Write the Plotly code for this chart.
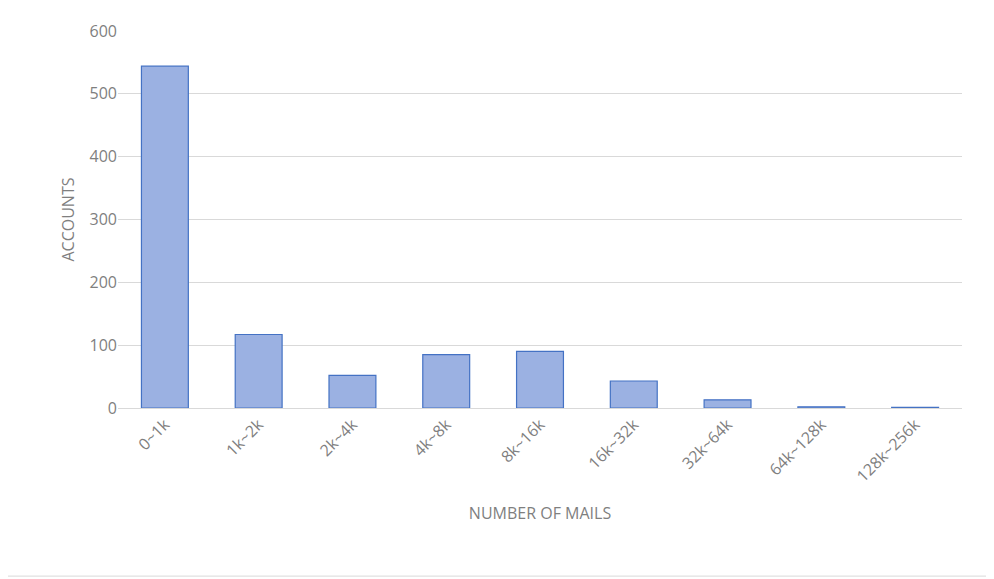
import plotly.graph_objects as go

categories = ["0~1k", "1k~2k", "2k~4k", "4k~8k", "8k~16k", "16k~32k", "32k~64k", "64k~128k", "128k~256k"]
accounts = [544, 117, 52, 85, 90, 43, 13, 2, 1]

fig = go.Figure(go.Bar(
    x=categories, y=accounts,
    marker=dict(color="#9BB1E2", line=dict(color="#4472C4", width=1.2)),
    width=0.5,
))
# page body has an 8px margin; compensate
L, R, T, B = 110, 32, 21, 171
W, H = 986, 571
pw, ph = W - L - R, H - T - B
fig.update_layout(
    width=W, height=H,
    margin=dict(l=L, r=R, t=T, b=B),
    paper_bgcolor="white", plot_bgcolor="white",
    font=dict(family="Open Sans, Liberation Sans, sans-serif", color="#7F7F7F", size=16),
    showlegend=False,
    xaxis=dict(tickangle=-45, showline=True, linecolor="#D9D9D9",
               title=dict(text="NUMBER OF MAILS", font=dict(size=16), standoff=22)),
    yaxis=dict(range=[0, 600], dtick=100, gridcolor="#D9D9D9", zeroline=False,
               ticks="", ticklen=8, tickcolor="white",
               title=dict(text="ACCOUNTS", font=dict(size=16), standoff=10)),
    shapes=[dict(type="rect", xref="paper", yref="paper",
                 x0=(-5 - L) / pw, x1=(W - 2 - L) / pw,
                 y0=(T + ph - (H - 2)) / ph, y1=(T + ph + 5) / ph,
                 line=dict(color="#D9D9D9", width=1), layer="below")],
)
fig.write_html("out.html")
